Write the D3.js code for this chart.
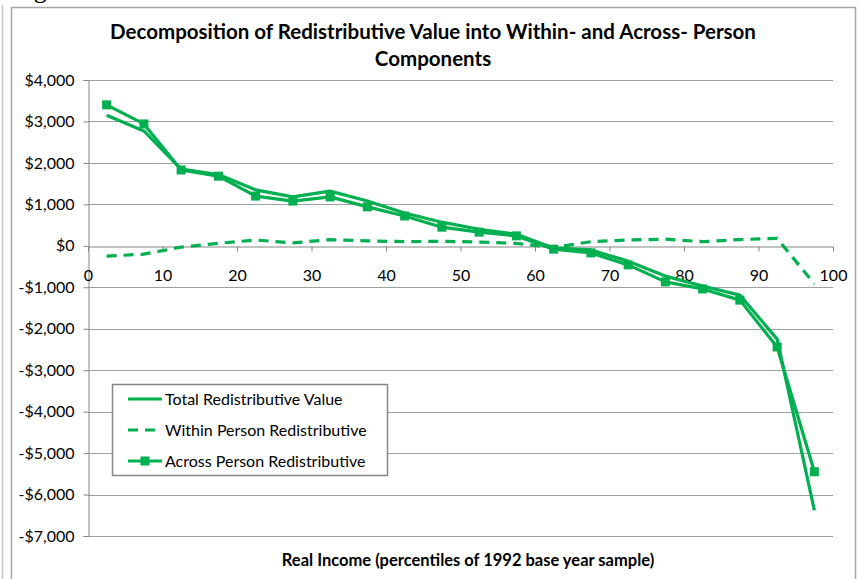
<!DOCTYPE html>
<html>
<head>
<meta charset="utf-8">
<script src="https://cdn.jsdelivr.net/npm/d3@7"></script>
<style>
  body { margin: 0; background: #fff; }
  svg text { font-family: Lato, "Open Sans", sans-serif; fill: #000; }
</style>
</head>
<body>
<div id="chart"></div>
<script>
// data (percentile midpoints)
var percentiles = [2.5, 7.5, 12.5, 17.5, 22.5, 27.5, 32.5, 37.5, 42.5, 47.5,
                   52.5, 57.5, 62.5, 67.5, 72.5, 77.5, 82.5, 87.5, 92.5, 97.5];
var totalValue = [3150, 2770, 1850, 1720, 1350, 1180, 1320, 1080, 790, 570,
                  400, 280, -50, -100, -370, -730, -970, -1190, -2250, -6380];
var withinValue = [-250, -200, -30, 60, 140, 70, 150, 120, 100, 110,
                   90, 60, -40, 100, 140, 160, 100, 150, 180, -920];
var acrossValue = [3400, 2940, 1830, 1680, 1200, 1080, 1180, 940, 720, 450,
                   330, 240, -80, -170, -460, -870, -1040, -1310, -2440, -5450];
var yTicks = [4000, 3000, 2000, 1000, 0, -1000, -2000, -3000, -4000, -5000, -6000, -7000];
var xTicks = [0, 10, 20, 30, 40, 50, 60, 70, 80, 90, 100];
var seriesNames = ["Total Redistributive Value", "Within Person Redistributive", "Across Person Redistributive"];

var green = "#00b050";
var width = 859, height = 579;

document.addEventListener('DOMContentLoaded', function () {
  draw();
}, false);

function fmtMoney(v) {
  var s = "$" + d3.format(",")(Math.abs(v));
  return v < 0 ? "-" + s : s;
}

function draw() {
  var svg = d3.select("#chart").append("svg")
    .attr("width", width)
    .attr("height", height);

  // page / chart frame
  svg.append("line").attr("x1", 2.5).attr("x2", 2.5).attr("y1", 5).attr("y2", height)
    .attr("stroke", "#c8c8c8").attr("stroke-width", 1.5);
  svg.append("rect").attr("x", 11.5).attr("y", 7.5).attr("width", 844).attr("height", 600)
    .attr("fill", "none").attr("stroke", "#a6a6a6").attr("stroke-width", 1.5);

  // caption above the chart, mostly outside the page as in the source
  svg.append("text").attr("x", 12).attr("y", -2).style("font-family", "Liberation Serif, serif")
    .style("font-size", "26px").text("Figure");

  var x = d3.scaleLinear().domain([0, 100]).range([88, 833]);
  var y = d3.scaleLinear().domain([-7000, 4000]).range([536, 80]);

  // gridlines
  svg.append("g").selectAll("line")
    .data(yTicks.filter(function(d){ return d !== 0; }))
    .enter().append("line")
    .attr("x1", x(0)).attr("x2", x(100))
    .attr("y1", function(d){ return Math.round(y(d)) + 0.5; })
    .attr("y2", function(d){ return Math.round(y(d)) + 0.5; })
    .attr("stroke", "#a0a0a0").attr("stroke-width", 1);

  // y axis
  var yAxis = svg.append("g")
    .attr("transform", "translate(" + (x(0) + 0.5) + ",0)")
    .call(d3.axisLeft(y).tickValues(yTicks).tickFormat(fmtMoney).tickSize(5).tickPadding(9));
  yAxis.select(".domain").attr("stroke", "#868686");
  yAxis.selectAll(".tick line").attr("stroke", "#868686");
  yAxis.selectAll("text").style("font-size", "16px").style("font-family", "Lato, sans-serif");

  // x axis at zero
  var xAxis = svg.append("g")
    .attr("transform", "translate(0," + (Math.round(y(0)) + 0.5) + ")")
    .call(d3.axisBottom(x).tickValues(xTicks).tickSize(5).tickPadding(18).tickSizeOuter(0));
  xAxis.select(".domain").attr("stroke", "#868686");
  xAxis.selectAll(".tick line").attr("stroke", "#868686");
  xAxis.selectAll("text").style("font-size", "16px").style("font-family", "Lato, sans-serif");

  var line = d3.line()
    .x(function(d){ return x(d[0]); })
    .y(function(d){ return y(d[1]); });

  var totalPts = d3.zip(percentiles, totalValue);
  var withinPts = d3.zip(percentiles, withinValue);
  var acrossPts = d3.zip(percentiles, acrossValue);

  svg.append("path").datum(withinPts)
    .attr("d", line).attr("fill", "none")
    .attr("stroke", green).attr("stroke-width", 3.2)
    .attr("stroke-dasharray", "10,7");

  svg.append("path").datum(totalPts)
    .attr("d", line).attr("fill", "none")
    .attr("stroke", green).attr("stroke-width", 3.2)
    .attr("stroke-linejoin", "round");

  svg.append("path").datum(acrossPts)
    .attr("d", line).attr("fill", "none")
    .attr("stroke", green).attr("stroke-width", 3.2)
    .attr("stroke-linejoin", "round");

  svg.append("g").selectAll("rect")
    .data(acrossPts)
    .enter().append("rect")
    .attr("x", function(d){ return x(d[0]) - 4.5; })
    .attr("y", function(d){ return y(d[1]) - 4.5; })
    .attr("width", 9).attr("height", 9)
    .attr("fill", green);

  // title
  svg.append("text").attr("x", 433).attr("y", 39).attr("text-anchor", "middle")
    .style("font-size", "20.5px").style("font-weight", "bold")
    .text("Decomposition of Redistributive Value into Within- and Across- Person");
  svg.append("text").attr("x", 433).attr("y", 66).attr("text-anchor", "middle")
    .style("font-size", "20.5px").style("font-weight", "bold")
    .text("Components");

  // x axis title
  svg.append("text").attr("x", 468).attr("y", 566).attr("text-anchor", "middle")
    .style("font-size", "16.5px").style("font-weight", "bold")
    .text("Real Income (percentiles of 1992 base year sample)");

  // legend
  var legend = svg.append("g");
  legend.append("rect").attr("x", 112.5).attr("y", 384.5).attr("width", 275).attr("height", 91)
    .attr("fill", "#fff").attr("stroke", "#868686").attr("stroke-width", 1.5);

  var rows = legend.selectAll("g.row")
    .data(seriesNames)
    .enter().append("g")
    .attr("class", "row")
    .attr("transform", function(d, i){ return "translate(0," + [399, 430, 461][i] + ")"; });

  rows.append("line")
    .attr("x1", 128).attr("x2", 162).attr("y1", 0).attr("y2", 0)
    .attr("stroke", green).attr("stroke-width", 3.2)
    .attr("stroke-dasharray", function(d, i){ return i === 1 ? "10,7" : null; });

  rows.filter(function(d, i){ return i === 2; })
    .append("rect").attr("x", 140.5).attr("y", -4.5).attr("width", 9).attr("height", 9)
    .attr("fill", green);

  rows.append("text")
    .attr("x", 165).attr("y", 5.5)
    .style("font-size", "16px")
    .text(function(d){ return d; });
}
</script>
</body>
</html>
